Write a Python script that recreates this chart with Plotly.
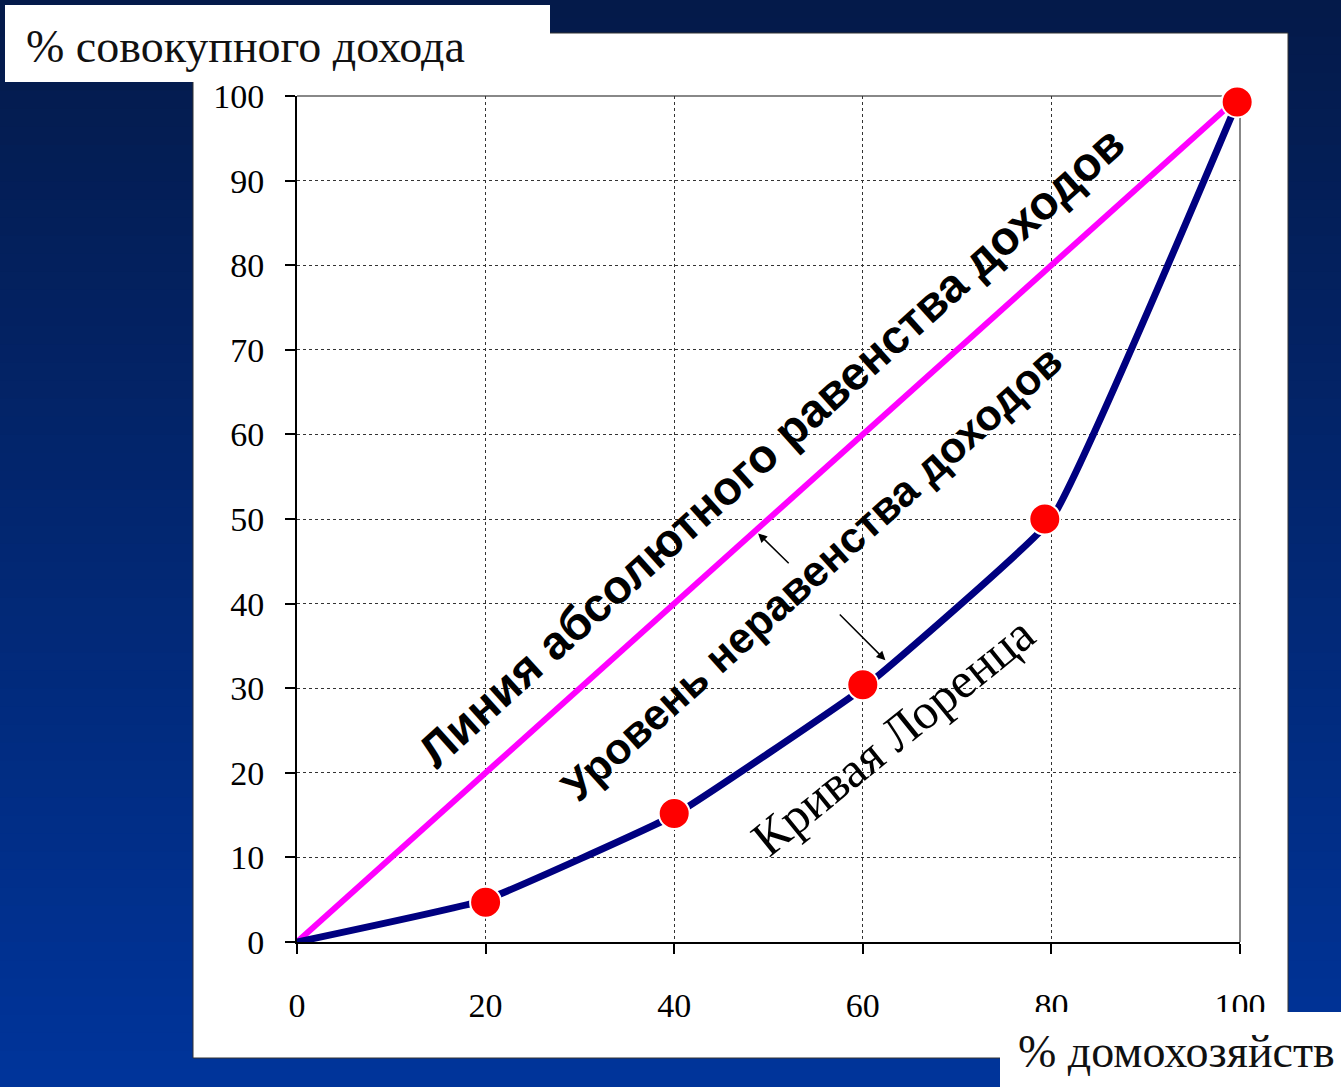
import plotly.graph_objects as go

# ---- data ----
equality_x = [0, 100]
equality_y = [0, 100]
lorenz_x = [0, 20, 40, 60, 80, 100]
lorenz_y = [0, 5, 15, 30, 50, 100]
marker_x = [20, 40, 60, 79.3, 99.7]
marker_y = [4.7, 15.2, 30.4, 50.0, 99.3]
x_ticks = [0, 20, 40, 60, 80, 100]
y_ticks = [0, 10, 20, 30, 40, 50, 60, 70, 80, 90, 100]

W, H = 1341, 1087
L, R, T, B = 297, 1240, 96, 942  # plot area in px


def px(x):
    return (x - L) / (R - L)


def py(y):
    return (B - y) / (B - T)


fig = go.Figure()

fig.add_trace(go.Scatter(x=equality_x, y=equality_y, mode="lines",
                         line=dict(color="#FF00FF", width=6), hoverinfo="skip",
                         cliponaxis=False))
fig.add_trace(go.Scatter(x=lorenz_x, y=lorenz_y, mode="lines",
                         line=dict(color="#000080", width=7, shape="spline", smoothing=0.3),
                         hoverinfo="skip", cliponaxis=False))
fig.add_trace(go.Scatter(x=marker_x, y=marker_y, mode="markers",
                         marker=dict(color="#FF0000", size=31, line=dict(color="white", width=2)),
                         hoverinfo="skip", cliponaxis=False))

shapes = []
# gradient background
n = 60
c0 = (4, 26, 74)
c1 = (0, 52, 154)
for i in range(n):
    t = i / (n - 1)
    c = tuple(round(c0[k] + (c1[k] - c0[k]) * t) for k in range(3))
    y0 = H * i / n
    y1 = H * (i + 1) / n + 1
    shapes.append(dict(type="rect", xref="paper", yref="paper", layer="below",
                       x0=px(-2), x1=px(W + 2), y0=py(y0 - (1 if i == 0 else 0)), y1=py(y1),
                       fillcolor="rgb(%d,%d,%d)" % c, line=dict(width=0)))
# white panel
shapes.append(dict(type="rect", xref="paper", yref="paper", layer="below",
                   x0=px(193), x1=px(1288), y0=py(33), y1=py(1058),
                   fillcolor="white", line=dict(color="#333333", width=1)))
# top and right frame lines
shapes.append(dict(type="line", xref="paper", yref="paper", layer="below",
                   x0=0, x1=1, y0=1, y1=1, line=dict(color="#888888", width=2)))
shapes.append(dict(type="line", xref="paper", yref="paper", layer="below",
                   x0=1, x1=1, y0=0, y1=1, line=dict(color="#888888", width=2)))
# label boxes
shapes.append(dict(type="rect", xref="paper", yref="paper", layer="above",
                   x0=px(5), x1=px(550), y0=py(5), y1=py(82),
                   fillcolor="white", line=dict(width=0)))
shapes.append(dict(type="rect", xref="paper", yref="paper", layer="above",
                   x0=px(1000), x1=px(W + 2), y0=py(1012), y1=py(H + 2),
                   fillcolor="white", line=dict(width=0)))

annotations = [
    dict(text="% совокупного дохода", xref="paper", yref="paper",
         x=px(24), y=py(46), xanchor="left", yanchor="middle", showarrow=False,
         font=dict(family="Liberation Serif", size=46, color="#111111")),
    dict(text="% домохозяйств", xref="paper", yref="paper",
         x=px(1016), y=py(1051), xanchor="left", yanchor="middle", showarrow=False,
         font=dict(family="Liberation Serif", size=46, color="#111111")),
    dict(text="<b>Линия абсолютного равенства доходов</b>", x=50.3, y=58.6,
         xanchor="center", yanchor="middle", showarrow=False, textangle=-42,
         font=dict(family="Liberation Sans", size=47, color="black")),
    dict(text="<b>Уровень неравенства доходов</b>", x=54.6, y=43.6,
         xanchor="center", yanchor="middle", showarrow=False, textangle=-42,
         font=dict(family="Liberation Sans", size=43, color="black")),
    dict(text="Кривая Лоренца", x=63.2, y=24.3,
         xanchor="center", yanchor="middle", showarrow=False, textangle=-39,
         font=dict(family="Liberation Serif", size=50, color="black")),
    dict(text="", x=48.9, y=48.3, ax=52.3, ay=44.6, axref="x", ayref="y",
         showarrow=True, arrowhead=2, arrowsize=1.2, arrowwidth=1.5, arrowcolor="black"),
    dict(text="", x=62.4, y=33.3, ax=57.4, ay=38.9, axref="x", ayref="y",
         showarrow=True, arrowhead=2, arrowsize=1.2, arrowwidth=1.5, arrowcolor="black"),
]

tick_font = dict(family="Liberation Serif", size=34, color="black")
fig.update_layout(
    width=W, height=H,
    margin=dict(l=L, r=W - R, t=T, b=H - B, pad=0),
    paper_bgcolor="#0a2060", plot_bgcolor="white",
    showlegend=False,
    shapes=shapes, annotations=annotations,
    xaxis=dict(range=[0, 100], tickvals=x_ticks, ticktext=[str(v) for v in x_ticks],
               showgrid=True, gridcolor="#333333", griddash="3px,3px", gridwidth=1,
               showline=True, linecolor="black", linewidth=2,
               ticks="outside", ticklen=10, tickcolor="black", tickwidth=1.5,
               ticklabelstandoff=22, tickfont=tick_font, zeroline=False, fixedrange=True),
    yaxis=dict(range=[0, 100], tickvals=y_ticks, ticktext=[str(v) for v in y_ticks],
               showgrid=True, gridcolor="#333333", griddash="3px,3px", gridwidth=1,
               showline=True, linecolor="black", linewidth=2,
               ticks="outside", ticklen=10, tickcolor="black", tickwidth=1.5,
               ticklabelstandoff=14, tickfont=tick_font, zeroline=False, fixedrange=True),
)

fig.write_html("out.html", config={"displayModeBar": False},
               post_script="document.body.style.margin='0';document.body.style.overflow='hidden';")
